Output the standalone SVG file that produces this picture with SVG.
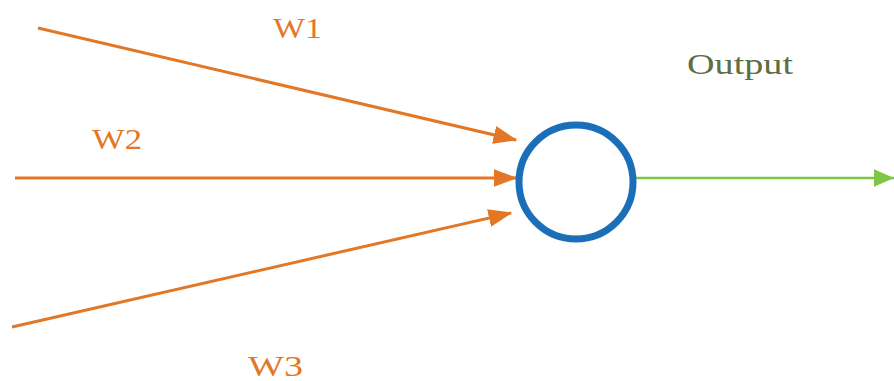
<svg xmlns="http://www.w3.org/2000/svg" width="894" height="381" viewBox="0 0 894 381">
<style>
.in{stroke:#E27826;stroke-width:3;fill:none}
.out{stroke:#7DC646;stroke-width:2.5;fill:none}
.lbl{font-family:"Liberation Serif","DejaVu Serif",serif;font-size:30px;fill:#E27826}
.olbl{font-family:"Liberation Serif","DejaVu Serif",serif;font-size:30px;fill:#5E6E44}
</style>
<defs>
<marker id="ao" markerWidth="8" markerHeight="6" refX="7.5" refY="3" orient="auto" markerUnits="strokeWidth">
<path d="M0,0 L8,3 L0,6 Z" fill="#E27826"/>
</marker>
<marker id="ag" markerWidth="8" markerHeight="7" refX="8" refY="3.5" orient="auto" markerUnits="strokeWidth">
<path d="M0,0 L8,3.5 L0,7 Z" fill="#7DC646"/>
</marker>
</defs>
<g id="connectors">
<line class="in" x1="38" y1="28" x2="516" y2="140" marker-end="url(#ao)"/>
<line class="in" x1="15" y1="178" x2="516" y2="178" marker-end="url(#ao)"/>
<line class="in" x1="12" y1="327" x2="511" y2="213" marker-end="url(#ao)"/>
<line class="out" x1="634" y1="178" x2="894" y2="178" marker-end="url(#ag)"/>
</g>
<g id="neuron">
<circle cx="576" cy="182" r="57" fill="#fff" stroke="#1B6FB9" stroke-width="7"/>
</g>
<g id="labels">
<text class="lbl" x="273" y="38" textLength="49" lengthAdjust="spacingAndGlyphs">W1</text>
<text class="lbl" x="92" y="149" textLength="50" lengthAdjust="spacingAndGlyphs">W2</text>
<text class="lbl" x="248" y="376" textLength="55" lengthAdjust="spacingAndGlyphs">W3</text>
<text class="olbl" x="687" y="74" textLength="106" lengthAdjust="spacingAndGlyphs">Output</text>
</g>
</svg>
